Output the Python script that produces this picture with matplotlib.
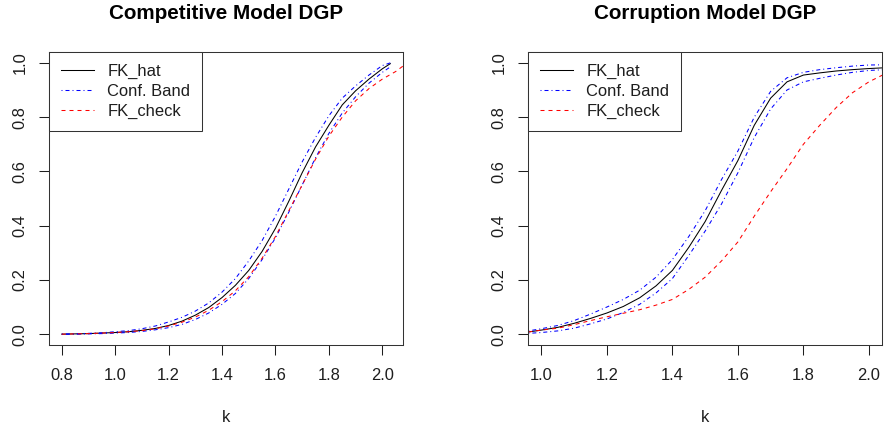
import matplotlib
matplotlib.use('Agg')
import matplotlib.pyplot as plt
from matplotlib.lines import Line2D

plt.rcParams['font.family'] = ['Liberation Sans', 'DejaVu Sans']
plt.rcParams['lines.scale_dashes'] = False

# ---------------- data ----------------
titles = ["Competitive Model DGP", "Corruption Model DGP"]
legend_labels = ["FK_hat", "Conf. Band", "FK_check"]

# Left panel (Competitive)
k_comp = [0.80, 0.85, 0.90, 0.95, 1.00, 1.05, 1.10, 1.15, 1.20, 1.25, 1.30, 1.35, 1.40,
          1.45, 1.50, 1.55, 1.60, 1.65, 1.70, 1.75, 1.80, 1.85, 1.90, 1.95, 2.00, 2.03]
fk_hat_comp = [0.000, 0.001, 0.002, 0.004, 0.006, 0.009, 0.014, 0.021, 0.032, 0.048, 0.070,
               0.098, 0.135, 0.180, 0.235, 0.305, 0.390, 0.490, 0.595, 0.690, 0.770, 0.845,
               0.897, 0.940, 0.978, 0.997]
upper_comp = [0.000, 0.001, 0.003, 0.005, 0.009, 0.013, 0.020, 0.030, 0.045, 0.062, 0.085,
              0.115, 0.155, 0.205, 0.270, 0.345, 0.435, 0.535, 0.635, 0.725, 0.805, 0.870,
              0.915, 0.955, 0.990, 1.000]
lower_comp = [0.000, 0.000, 0.001, 0.002, 0.004, 0.006, 0.010, 0.016, 0.024, 0.036, 0.054,
              0.078, 0.110, 0.150, 0.205, 0.275, 0.355, 0.450, 0.550, 0.650, 0.740, 0.815,
              0.875, 0.925, 0.965, 0.985]
k_check_comp = [0.80, 0.85, 0.90, 0.95, 1.00, 1.05, 1.10, 1.15, 1.20, 1.25, 1.30, 1.35, 1.40,
                1.45, 1.50, 1.55, 1.60, 1.65, 1.70, 1.75, 1.80, 1.85, 1.90, 1.95, 2.00, 2.05, 2.08]
fk_check_comp = [0.000, 0.001, 0.002, 0.004, 0.006, 0.009, 0.013, 0.020, 0.030, 0.044, 0.063,
                 0.088, 0.120, 0.160, 0.212, 0.280, 0.360, 0.455, 0.550, 0.645, 0.730, 0.800,
                 0.860, 0.905, 0.940, 0.968, 0.990]

# Right panel (Corruption)
k_corr = [0.96, 1.00, 1.05, 1.10, 1.15, 1.20, 1.25, 1.30, 1.35, 1.40, 1.45, 1.50, 1.55,
          1.60, 1.65, 1.70, 1.75, 1.80, 1.85, 1.90, 1.95, 2.00, 2.05]
fk_hat_corr = [0.008, 0.015, 0.025, 0.040, 0.058, 0.078, 0.102, 0.134, 0.178, 0.235, 0.320,
               0.415, 0.530, 0.640, 0.770, 0.870, 0.930, 0.955, 0.963, 0.970, 0.975, 0.979, 0.982]
upper_corr = [0.012, 0.020, 0.032, 0.050, 0.074, 0.100, 0.128, 0.162, 0.210, 0.275, 0.360,
              0.455, 0.570, 0.675, 0.800, 0.895, 0.945, 0.965, 0.975, 0.982, 0.988, 0.992, 0.993]
lower_corr = [0.003, 0.006, 0.012, 0.022, 0.038, 0.056, 0.080, 0.110, 0.152, 0.205, 0.290,
              0.380, 0.480, 0.595, 0.725, 0.830, 0.900, 0.930, 0.943, 0.955, 0.965, 0.972, 0.975]
fk_check_corr = [0.008, 0.015, 0.022, 0.035, 0.050, 0.064, 0.077, 0.090, 0.107, 0.128, 0.165,
                 0.210, 0.270, 0.340, 0.435, 0.525, 0.610, 0.700, 0.770, 0.835, 0.890, 0.930, 0.960]

xticks_comp = [0.8, 1.0, 1.2, 1.4, 1.6, 1.8, 2.0]
xticks_corr = [1.0, 1.2, 1.4, 1.6, 1.8, 2.0]
yticks = [0.0, 0.2, 0.4, 0.6, 0.8, 1.0]

# ---------------- styles ----------------
LW = 0.75
DOTDASH = (0, (0.72, 2.16, 2.88, 2.16))
DASHED = (0, (2.88, 2.88))
FS = 11.9
TXT = '#1e1e1e'
EDGE = '#333333'

fig = plt.figure(figsize=(8.84, 4.33), dpi=100)
ax1 = fig.add_axes([49 / 884, 1 - 345 / 433, 354 / 884, 293 / 433])
ax2 = fig.add_axes([528 / 884, 1 - 345 / 433, 354 / 884, 293 / 433])

panels = [
    (ax1, k_comp, fk_hat_comp, upper_comp, lower_comp, k_check_comp, fk_check_comp,
     xticks_comp, (0.752, 2.0775), titles[0]),
    (ax2, k_corr, fk_hat_corr, upper_corr, lower_corr, k_corr, fk_check_corr,
     xticks_corr, (0.959, 2.04), titles[1]),
]

handles = [
    Line2D([], [], color='black', lw=LW),
    Line2D([], [], color='blue', lw=LW, linestyle=DOTDASH),
    Line2D([], [], color='red', lw=LW, linestyle=DASHED),
]

for ax, k, hat, up, lo, kc, chk, xt, xl, title in panels:
    ax.plot(k, hat, color='black', lw=LW)
    ax.plot(k, up, color='blue', lw=LW, linestyle=DOTDASH)
    ax.plot(k, lo, color='blue', lw=LW, linestyle=DOTDASH)
    ax.plot(kc, chk, color='red', lw=LW, linestyle=DASHED)
    ax.set_xlim(*xl)
    ax.set_ylim(-0.04, 1.04)
    ax.set_xticks(xt)
    ax.set_xticklabels([f"{v:.1f}" for v in xt])
    ax.set_yticks(yticks)
    ax.set_yticklabels([f"{v:.1f}" for v in yticks], rotation=90, va='center')
    ax.tick_params(axis='both', direction='out', length=7.5, width=LW, labelsize=FS,
                   colors=TXT)
    ax.tick_params(axis='x', pad=9)
    ax.tick_params(axis='y', pad=8)
    for s in ax.spines.values():
        s.set_linewidth(LW)
        s.set_color(EDGE)
    ax.set_title(title, fontsize=14.9, fontweight='bold', pad=23.5, color='black')
    ax.set_xlabel('k', fontsize=FS, color=TXT)
    ax.xaxis.set_label_coords(0.5, -0.249)
    ax.xaxis.label.set_va('center')
    leg = ax.legend(handles=handles, labels=legend_labels, loc='upper left',
                    borderaxespad=0, fancybox=False, framealpha=1, edgecolor=EDGE,
                    fontsize=FS, handlelength=2.0, handletextpad=0.8, labelspacing=0.3,
                    borderpad=0.72)
    leg.get_frame().set_linewidth(LW)
    for t in leg.get_texts():
        t.set_color(TXT)

fig.savefig('out.png', dpi=100)
